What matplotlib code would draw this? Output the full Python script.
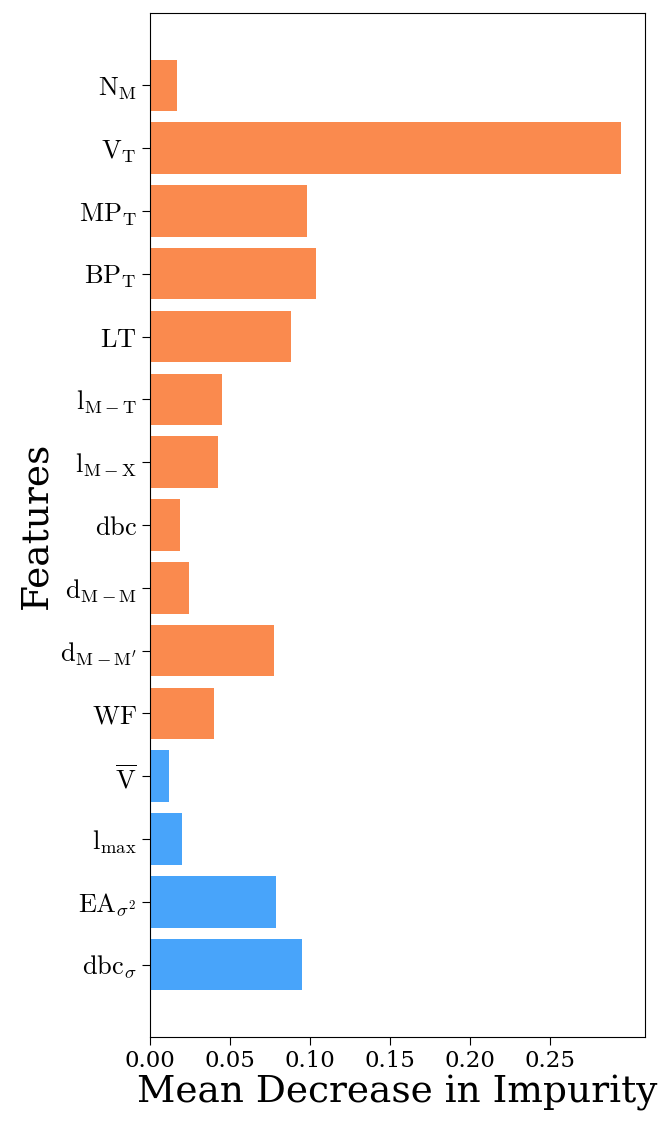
import matplotlib
matplotlib.use("Agg")
import matplotlib.pyplot as plt

plt.rcParams['font.family'] = 'DejaVu Serif'
plt.rcParams['mathtext.fontset'] = 'cm'

features = [r'$\mathrm{N_M}$', r'$\mathrm{V_T}$', r'$\mathrm{MP_T}$', r'$\mathrm{BP_T}$',
            r'$\mathrm{LT}$', r'$\mathrm{l_{M-T}}$', r'$\mathrm{l_{M-X}}$', r'$\mathrm{dbc}$',
            r'$\mathrm{d_{M-M}}$', r"$\mathrm{d_{M-M^{\prime}}}$", r'$\mathrm{WF}$',
            r'$\overline{\mathrm{V}}$', r'$\mathrm{l_{max}}$', r'$\mathrm{EA_{\sigma^2}}$',
            r'$\mathrm{dbc_{\sigma}}$']
importance = [0.0170, 0.2946, 0.0981, 0.1040, 0.0880, 0.0451, 0.0426, 0.0189,
              0.0245, 0.0776, 0.0399, 0.0117, 0.0198, 0.0786, 0.0950]
groups = ['a'] * 11 + ['b'] * 4
xticks = [0.00, 0.05, 0.10, 0.15, 0.20, 0.25]

colors = {'a': '#FA8A4E', 'b': '#48A4FA'}

fig = plt.figure(figsize=(6.65, 11.22), dpi=100)
ax = fig.add_axes([0.2256, 0.0758, 0.7444, 0.9126])

ax.barh(range(len(features)), importance, height=0.82,
        color=[colors[g] for g in groups])
ax.set_yticks(range(len(features)))
ax.set_yticklabels(features)
ax.invert_yaxis()
ax.set_xticks(xticks)
ax.set_xticklabels([f'{t:.2f}' for t in xticks])

ax.tick_params(axis='y', labelsize=19, length=6)
ax.tick_params(axis='x', labelsize=16.5, length=6)
ax.set_xlabel('Mean Decrease in Impurity', fontsize=27, labelpad=2)
ax.set_ylabel('Features', fontsize=27)

fig.savefig('out.png', dpi=100)
